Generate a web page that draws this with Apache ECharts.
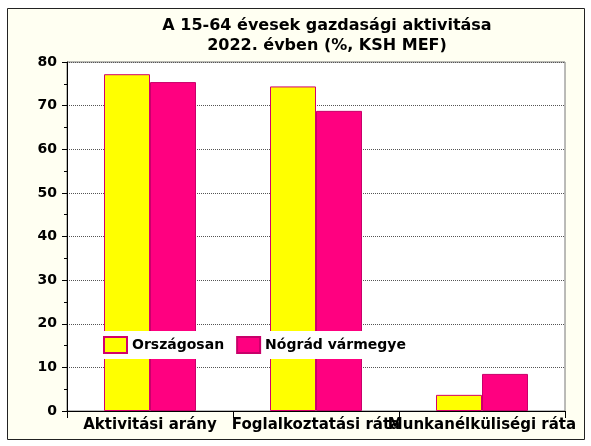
<!DOCTYPE html>
<html>
<head>
<meta charset="utf-8">
<script src="https://cdn.jsdelivr.net/npm/echarts@6/dist/echarts.min.js"></script>
<style>
  html, body { margin: 0; padding: 0; background: #ffffff; }
  #chart { width: 591px; height: 446px; }
</style>
</head>
<body>
<div id="chart"></div>
<script>
// Kategóriák és értékek (%)
const categories = ['Aktivitási arány', 'Foglalkoztatási ráta', 'Munkanélküliségi ráta'];
const orszagosan = [77.2, 74.4, 3.7];
const nograd = [75.4, 68.8, 8.5];
const seriesNames = ['Országosan', 'Nógrád vármegye'];

const chart = echarts.init(document.getElementById('chart'));

const option = {
  backgroundColor: '#ffffff',
  animation: false,
  graphic: [{
    type: 'rect',
    z: -10,
    shape: { x: 7.5, y: 8.5, width: 577, height: 431 },
    style: { fill: '#fffff2', stroke: '#222222', lineWidth: 1 }
  }],
  title: {
    text: 'A 15-64 évesek gazdasági aktivitása\n2022. évben (%, KSH MEF)',
    left: 322,
    textAlign: 'center',
    top: 11,
    textStyle: {
      fontFamily: 'DejaVu Sans',
      fontWeight: 'bold',
      fontSize: 16,
      lineHeight: 20,
      color: '#000000'
    }
  },
  legend: {
    data: seriesNames,
    left: 99,
    top: 331,
    icon: 'rect',
    itemWidth: 23,
    itemHeight: 16,
    itemGap: 12,
    padding: [5, 4],
    backgroundColor: '#ffffff',
    textStyle: {
      fontFamily: 'DejaVu Sans',
      fontWeight: 'bold',
      fontSize: 14,
      color: '#000000'
    }
  },
  grid: {
    left: 67,
    right: 26,
    top: 62,
    bottom: 35,
    show: true,
    backgroundColor: '#ffffff',
    borderColor: '#777777',
    borderWidth: 1
  },
  xAxis: {
    type: 'category',
    data: categories,
    axisLine: { lineStyle: { color: '#000000', width: 1 } },
    axisTick: { show: true, length: 7, lineStyle: { color: '#000000' } },
    axisLabel: {
      interval: 0,
      margin: 7,
      fontFamily: 'DejaVu Sans',
      fontWeight: 'bold',
      fontSize: 15,
      color: '#000000'
    }
  },
  yAxis: {
    type: 'value',
    min: 0,
    max: 80,
    interval: 10,
    axisLine: { show: true, lineStyle: { color: '#000000', width: 1 } },
    axisTick: { show: true, length: 5, lineStyle: { color: '#000000' } },
    minorTick: { show: true, splitNumber: 2, length: 3, lineStyle: { color: '#000000' } },
    splitLine: { show: true, lineStyle: { color: '#555555', type: [1, 1], width: 1 } },
    axisLabel: {
      margin: 10,
      fontFamily: 'DejaVu Sans',
      fontWeight: 'bold',
      fontSize: 14,
      color: '#000000'
    }
  },
  series: [
    {
      name: seriesNames[0],
      type: 'bar',
      data: orszagosan,
      barWidth: 46,
      barGap: '0%',
      itemStyle: { color: '#ffff00', borderColor: '#d4006a', borderWidth: 1 }
    },
    {
      name: seriesNames[1],
      type: 'bar',
      data: nograd,
      barWidth: 46,
      barGap: '0%',
      itemStyle: { color: '#ff0080', borderColor: '#c8006a', borderWidth: 1 }
    }
  ]
};

chart.setOption(option);
</script>
</body>
</html>
